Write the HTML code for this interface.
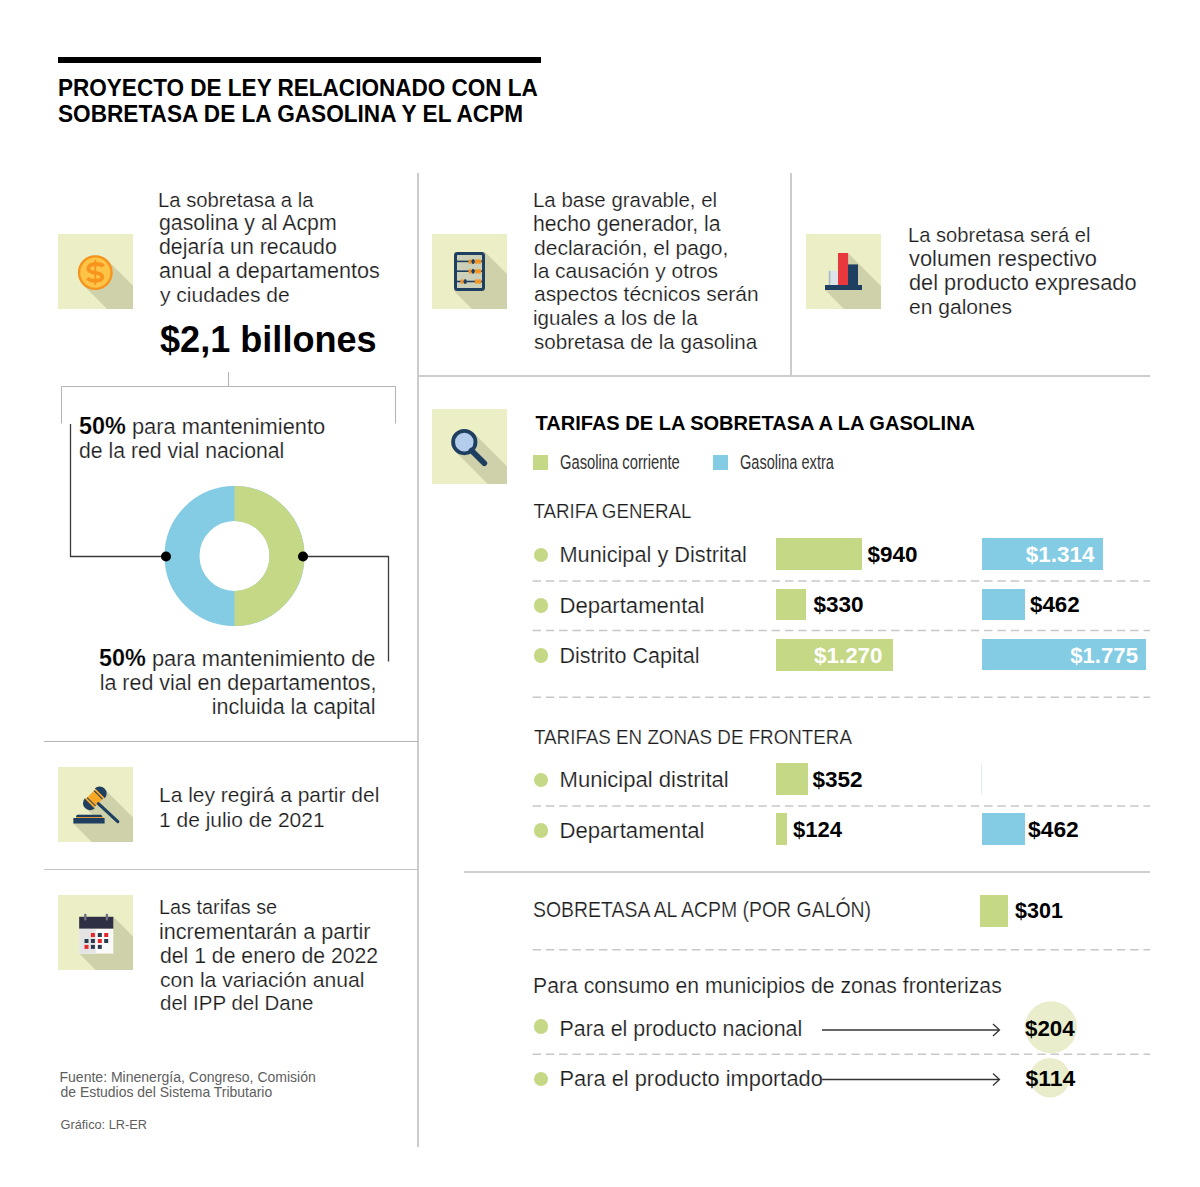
<!DOCTYPE html>
<html><head><meta charset="utf-8"><style>
html,body{margin:0;padding:0;background:#fff;}
body{width:1200px;height:1187px;position:relative;overflow:hidden;font-family:"Liberation Sans", sans-serif;}
.t{position:absolute;white-space:nowrap;}
.lt{-webkit-text-stroke:0.2px #fff;}
svg{position:absolute;}
</style></head><body>
<div style="position:absolute;left:58px;top:57px;width:483px;height:6px;background:#000;"></div>
<div style="position:absolute;left:417px;top:173px;width:2px;height:974px;background:#cccccc;"></div>
<div style="position:absolute;left:790px;top:173px;width:2px;height:203px;background:#cccccc;"></div>
<div style="position:absolute;left:418px;top:375px;width:732px;height:2px;background:#cccccc;"></div>
<div style="position:absolute;left:44px;top:741px;width:374px;height:1px;background:#b4b4b4;"></div>
<div style="position:absolute;left:44px;top:869px;width:374px;height:1px;background:#c4c4c4;"></div>
<div style="position:absolute;left:464px;top:871px;width:686px;height:2px;background:#cfcfcf;"></div>
<svg style="left:0;top:0" width="1200" height="1187" viewBox="0 0 1200 1187">
<g fill="none" stroke="#b3b3b3" stroke-width="1">
<path d="M61.5 423.5 V386.5 H395.5 V423.5"/>
<path d="M228.5 372 V386.5"/>
</g>
<g fill="none" stroke="#3a3a3a" stroke-width="1.3">
<path d="M70.5 424 V556.5 H166"/>
<path d="M303 556.5 H388.5 V661.5"/>
</g>
<circle cx="234.5" cy="556" r="52.5" fill="none" stroke="#84cbe4" stroke-width="35"/>
<path d="M234.5 486 A70 70 0 0 1 234.5 626 L234.5 591 A35 35 0 0 0 234.5 521 Z" fill="#c5d886"/>
<circle cx="166" cy="556.5" r="5" fill="#000"/>
<circle cx="303" cy="556.5" r="5" fill="#000"/>
</svg>
<div style="position:absolute;left:533px;top:455px;width:15px;height:15px;background:#c5d886;"></div>
<div style="position:absolute;left:713px;top:455px;width:15px;height:15px;background:#84cbe4;"></div>
<div style="position:absolute;left:533.7px;top:547.6px;width:14.8px;height:14.8px;border-radius:50%;background:#c5d886"></div>
<div style="position:absolute;left:533.7px;top:598.1px;width:14.8px;height:14.8px;border-radius:50%;background:#c5d886"></div>
<div style="position:absolute;left:533.7px;top:648.1px;width:14.8px;height:14.8px;border-radius:50%;background:#c5d886"></div>
<div style="position:absolute;left:533.7px;top:772.6px;width:14.8px;height:14.8px;border-radius:50%;background:#c5d886"></div>
<div style="position:absolute;left:533.7px;top:823.1px;width:14.8px;height:14.8px;border-radius:50%;background:#c5d886"></div>
<div style="position:absolute;left:533.7px;top:1019.1px;width:14.8px;height:14.8px;border-radius:50%;background:#c5d886"></div>
<div style="position:absolute;left:533.7px;top:1071.6px;width:14.8px;height:14.8px;border-radius:50%;background:#c5d886"></div>
<svg style="left:0;top:0" width="1200" height="1187" viewBox="0 0 1200 1187"><g stroke="#c8c8c8" stroke-width="1.4" stroke-dasharray="8.4 4.88">
<path d="M532.6 581 H1150"/>
<path d="M532.6 630.5 H1150"/>
<path d="M532.6 697.3 H1150"/>
<path d="M532.6 806 H1150"/>
<path d="M532.6 949.7 H1150"/>
<path d="M532.6 1054.2 H1150"/>
</g></svg>
<div style="position:absolute;left:776px;top:538px;width:86px;height:32px;background:#c5d886;"></div>
<div style="position:absolute;left:776px;top:589px;width:30px;height:31px;background:#c5d886;"></div>
<div style="position:absolute;left:776px;top:639px;width:117px;height:31.5px;background:#c5d886;"></div>
<div style="position:absolute;left:982px;top:538px;width:121px;height:32px;background:#84cbe4;"></div>
<div style="position:absolute;left:982px;top:589px;width:43px;height:31px;background:#84cbe4;"></div>
<div style="position:absolute;left:982px;top:639px;width:164px;height:31px;background:#84cbe4;"></div>
<div style="position:absolute;left:776px;top:763px;width:32px;height:31.5px;background:#c5d886;"></div>
<div style="position:absolute;left:981px;top:763px;width:1px;height:32px;background:#e3eef2;"></div>
<div style="position:absolute;left:776px;top:813px;width:11px;height:31.5px;background:#c5d886;"></div>
<div style="position:absolute;left:981.5px;top:813px;width:43px;height:31.5px;background:#84cbe4;"></div>
<div style="position:absolute;left:980px;top:895px;width:28px;height:32px;background:#c5d886;"></div>
<svg style="left:0;top:0" width="1200" height="1187" viewBox="0 0 1200 1187">
<circle cx="1051" cy="1027.3" r="26" fill="#e9edcb"/>
<circle cx="1050" cy="1077.7" r="19.8" fill="#e9edcb"/>
<g fill="none" stroke="#333" stroke-width="1.3">
<path d="M822 1030 H999"/><path d="M993 1024 L999.5 1030 L993 1036"/>
<path d="M822 1079.5 H999"/><path d="M993 1073.5 L999.5 1079.5 L993 1085.5"/>
</g></svg>
<svg style="left:58px;top:234px" width="75" height="75" viewBox="0 0 75 75"><rect width="75" height="75" fill="#ecefc6"/><polygon points="25.00,50.90 49.60,26.30 139.60,116.30 115.00,140.90" fill="#cfd1aa"/><circle cx="37.3" cy="38.6" r="17.4" fill="#cfd1aa"/><circle cx="37.3" cy="38.6" r="16.25" fill="#fdc447" stroke="#f7941d" stroke-width="2.4"/><path d="M45.5 32.2 C44 30.6 41 30 37.4 30 C33 30 30.3 31.8 30.3 34.6 C30.3 37.6 33 38.3 37.3 38.8 C41.8 39.3 44.3 40.3 44.3 43.1 C44.3 46 41.5 46.7 37.3 46.7 C33.5 46.7 30.9 45.9 29.3 44.2" fill="none" stroke="#f7941d" stroke-width="3.8"/><path d="M37.3 26 V50.8" stroke="#f7941d" stroke-width="1.7"/></svg>
<svg style="left:432px;top:234px" width="75" height="75" viewBox="0 0 75 75"><rect width="75" height="75" fill="#ecefc6"/><polygon points="53,18 143,108 143,147 112,147 22,57 22,18" fill="#cfd1aa"/><rect x="23.5" y="19.5" width="28" height="36" rx="2" fill="#cdd0b9" stroke="#1e3f5f" stroke-width="3"/><path d="M24 27.4 H51" stroke="#1e3f5f" stroke-width="1.6"/><ellipse cx="38.1" cy="27.4" rx="1.6" ry="2.5" fill="#f7941d"/><ellipse cx="41.1" cy="27.4" rx="1.6" ry="2.5" fill="#1e3f5f"/><ellipse cx="44.5" cy="27.4" rx="1.6" ry="2.5" fill="#f7941d"/><ellipse cx="47.6" cy="27.4" rx="1.6" ry="2.5" fill="#f7941d"/><path d="M24 37.2 H51" stroke="#1e3f5f" stroke-width="1.6"/><ellipse cx="38.1" cy="37.2" rx="1.6" ry="2.5" fill="#f7941d"/><ellipse cx="41.1" cy="37.2" rx="1.6" ry="2.5" fill="#1e3f5f"/><ellipse cx="44.5" cy="37.2" rx="1.6" ry="2.5" fill="#f7941d"/><ellipse cx="47.6" cy="37.2" rx="1.6" ry="2.5" fill="#f7941d"/><path d="M24 47.5 H51" stroke="#1e3f5f" stroke-width="1.6"/><ellipse cx="30.1" cy="47.5" rx="1.6" ry="2.5" fill="#f7941d"/><ellipse cx="33.2" cy="47.5" rx="1.6" ry="2.5" fill="#1e3f5f"/><ellipse cx="44.5" cy="47.5" rx="1.6" ry="2.5" fill="#f7941d"/><ellipse cx="47.6" cy="47.5" rx="1.6" ry="2.5" fill="#f7941d"/></svg>
<svg style="left:806px;top:234px" width="75" height="75" viewBox="0 0 75 75"><rect width="75" height="75" fill="#ecefc6"/><polygon points="56,51 146,141 146,146 109,146 19,56 19,51" fill="#cfd1aa"/><polygon points="42,19 132,109 132,141 122,141 32,51 32,19" fill="#cfd1aa"/><polygon points="52,30.4 142,120.4 142,141 132,141 42,51 42,30.4" fill="#cfd1aa"/><rect x="22.8" y="36.9" width="9.2" height="14.1" fill="#dde4e9"/><rect x="22.8" y="36.9" width="1.6" height="14.1" fill="#aab6c2"/><rect x="32" y="19" width="10.1" height="32" fill="#e8383d"/><rect x="42" y="30.4" width="10" height="20.6" fill="#1e3f5f"/><rect x="19" y="51" width="37" height="5" fill="#1e3f5f"/></svg>
<svg style="left:432px;top:409px" width="75" height="75" viewBox="0 0 75 75"><rect width="75" height="75" fill="#ecefc6"/><polygon points="23.04,42.36 41.56,23.84 131.56,113.84 113.04,132.36" fill="#cfd1aa"/><circle cx="32.3" cy="33.1" r="13.1" fill="#cfd1aa"/><polygon points="55,41 115,101 115,115 97,115 37,55 37,41" fill="#cfd1aa"/><circle cx="32.3" cy="33.1" r="11.2" fill="#b5cdec" stroke="#1e3f5f" stroke-width="3.8"/><path d="M39.5 41.5 L52.3 54.2" stroke="#1e3f5f" stroke-width="5.7" stroke-linecap="round"/></svg>
<svg style="left:58px;top:767px" width="75" height="75" viewBox="0 0 75 75"><rect width="75" height="75" fill="#ecefc6"/><polygon points="44.1,47.8 134.1,137.8 134.1,141 108.2,141 18.2,51 18.2,47.8" fill="#cfd1aa"/><polygon points="46.6,51 136.6,141 136.6,146.5 105.4,146.5 15.4,56.5 15.4,51" fill="#cfd1aa"/><g transform="translate(36.8 31.3) rotate(-45)"><rect x="-13.5" y="0" width="27" height="90" fill="#cfd1aa"/><path d="M7 -7 A6.8 7 0 0 1 7 7 Z" fill="#1e3f5f"/><path d="M-7 -7 A6.8 7 0 0 0 -7 7 Z" fill="#1e3f5f"/><rect x="-7.2" y="-6.0" width="14.4" height="12.0" fill="#f9a825"/><rect x="-5.4" y="-6.0" width="1.0" height="12.0" fill="#1e3f5f"/><rect x="4.4" y="-6.0" width="1.0" height="12.0" fill="#1e3f5f"/></g><path d="M40.4 36.6 L59.8 54.6" stroke="#1e3f5f" stroke-width="3.2" stroke-linecap="round"/><path d="M18.2 50.3 V49.3 Q18.2 47.8 19.7 47.8 H42.6 Q44.1 47.8 44.1 49.3 V50.3 Z" fill="#1e3f5f"/><rect x="18.5" y="50.2" width="27" height="0.9" fill="#f7941d"/><rect x="15.4" y="51" width="31.2" height="5.5" fill="#1e3f5f"/></svg>
<svg style="left:58px;top:895px" width="75" height="75" viewBox="0 0 75 75"><rect width="75" height="75" fill="#ecefc6"/><polygon points="55.3,21.8 145.3,111.8 145.3,148.6 111.2,148.6 21.2,58.6 21.2,21.8" fill="#cfd1aa"/><rect x="21.2" y="33.6" width="34.1" height="25" fill="#fafafa"/><rect x="21.2" y="33.6" width="16.5" height="25" fill="#e4e4e4"/><rect x="21.2" y="21.8" width="34.1" height="11.8" fill="#2e2e44"/><rect x="26.1" y="18.8" width="2.4" height="6.8" rx="1" fill="#6f6f80"/><rect x="47.7" y="18.8" width="2.4" height="6.8" rx="1" fill="#6f6f80"/><rect x="32.9" y="38.0" width="4" height="4" fill="#e8262b"/><rect x="39.8" y="38.0" width="4" height="4" fill="#2a3a4e"/><rect x="46.2" y="38.0" width="4" height="4" fill="#e8262b"/><rect x="26.5" y="44.0" width="4" height="4" fill="#2a3a4e"/><rect x="32.9" y="44.0" width="4" height="4" fill="#2a3a4e"/><rect x="39.8" y="44.0" width="4" height="4" fill="#e8262b"/><rect x="46.2" y="44.0" width="4" height="4" fill="#2a3a4e"/><rect x="26.5" y="49.9" width="4" height="4" fill="#e8262b"/><rect x="32.9" y="49.9" width="4" height="4" fill="#2a3a4e"/><rect x="39.8" y="49.9" width="4" height="4" fill="#2a3a4e"/></svg>
<div class="t" style="left:58.00px;top:77.53px;font-size:22.541px;line-height:22.541px;font-weight:bold;color:#000;transform:scale(1.0000,1.08);transform-origin:left 18.77px;">PROYECTO DE LEY RELACIONADO CON LA</div>
<div class="t" style="left:58.00px;top:103.68px;font-size:22.645px;line-height:22.645px;font-weight:bold;color:#000;transform:scale(1.0000,1.08);transform-origin:left 18.82px;">SOBRETASA DE LA GASOLINA Y EL ACPM</div>
<div class="t lt" style="left:158.00px;top:190.36px;font-size:20.280px;line-height:20.280px;color:#1c1c1c;">La sobretasa a la</div>
<div class="t lt" style="left:159.00px;top:213.39px;font-size:21.323px;line-height:21.323px;color:#1c1c1c;">gasolina y al Acpm</div>
<div class="t lt" style="left:159.00px;top:236.94px;font-size:21.321px;line-height:21.321px;color:#1c1c1c;">dejaría un recaudo</div>
<div class="t lt" style="left:159.00px;top:259.85px;font-size:21.594px;line-height:21.594px;color:#1c1c1c;">anual a departamentos</div>
<div class="t lt" style="left:160.00px;top:283.68px;font-size:21.037px;line-height:21.037px;color:#1c1c1c;">y ciudades de</div>
<div class="t" style="left:160.00px;top:321.95px;font-size:36.106px;line-height:36.106px;font-weight:bold;color:#000;">$2,1 billones</div>
<div class="t lt" style="left:533.00px;top:189.57px;font-size:20.451px;line-height:20.451px;color:#1c1c1c;">La base gravable, el</div>
<div class="t lt" style="left:533.00px;top:213.42px;font-size:21.227px;line-height:21.227px;color:#1c1c1c;">hecho generador, la</div>
<div class="t lt" style="left:534.00px;top:236.73px;font-size:21.051px;line-height:21.051px;color:#1c1c1c;">declaración, el pago,</div>
<div class="t lt" style="left:533.00px;top:260.51px;font-size:20.952px;line-height:20.952px;color:#1c1c1c;">la causación y otros</div>
<div class="t lt" style="left:534.00px;top:284.25px;font-size:20.945px;line-height:20.945px;color:#1c1c1c;">aspectos técnicos serán</div>
<div class="t lt" style="left:533.00px;top:308.16px;font-size:20.574px;line-height:20.574px;color:#1c1c1c;">iguales a los de la</div>
<div class="t lt" style="left:534.00px;top:331.88px;font-size:20.608px;line-height:20.608px;color:#1c1c1c;">sobretasa de la gasolina</div>
<div class="t lt" style="left:908.00px;top:225.43px;font-size:20.146px;line-height:20.146px;color:#1c1c1c;">La sobretasa será el</div>
<div class="t lt" style="left:909.00px;top:247.79px;font-size:21.822px;line-height:21.822px;color:#1c1c1c;">volumen respectivo</div>
<div class="t lt" style="left:909.00px;top:271.51px;font-size:21.786px;line-height:21.786px;color:#1c1c1c;">del producto expresado</div>
<div class="t lt" style="left:909.00px;top:295.57px;font-size:21.069px;line-height:21.069px;color:#1c1c1c;">en galones</div>
<div class="t lt" style="left:159.00px;top:785.21px;font-size:20.973px;line-height:20.973px;color:#1c1c1c;">La ley regirá a partir del</div>
<div class="t lt" style="left:159.00px;top:808.71px;font-size:20.982px;line-height:20.982px;color:#1c1c1c;">1 de julio de 2021</div>
<div class="t lt" style="left:159.00px;top:898.27px;font-size:19.864px;line-height:19.864px;color:#1c1c1c;">Las tarifas se</div>
<div class="t lt" style="left:159.00px;top:920.79px;font-size:21.618px;line-height:21.618px;color:#1c1c1c;">incrementarán a partir</div>
<div class="t lt" style="left:160.00px;top:944.89px;font-size:21.216px;line-height:21.216px;color:#1c1c1c;">del 1 de enero de 2022</div>
<div class="t lt" style="left:160.00px;top:968.83px;font-size:21.147px;line-height:21.147px;color:#1c1c1c;">con la variación anual</div>
<div class="t lt" style="left:160.00px;top:993.04px;font-size:20.516px;line-height:20.516px;color:#1c1c1c;">del IPP del Dane</div>
<div class="t" style="left:59.50px;top:1070.48px;font-size:14.033px;line-height:14.033px;color:#5e5e5e;">Fuente: Minenergía, Congreso, Comisión</div>
<div class="t" style="left:60.50px;top:1086.02px;font-size:13.967px;line-height:13.967px;color:#5e5e5e;">de Estudios del Sistema Tributario</div>
<div class="t" style="left:60.50px;top:1119.12px;font-size:12.765px;line-height:12.765px;color:#5e5e5e;">Gráfico: LR-ER</div>
<div class="t lt" style="left:79.00px;top:416.05px;font-size:21.894px;line-height:21.894px;color:#1c1c1c;"><b style="color:#000;font-size:1.07em">50%</b> para mantenimiento</div>
<div class="t lt" style="left:79.00px;top:439.88px;font-size:21.230px;line-height:21.230px;color:#1c1c1c;">de la red vial nacional</div>
<div class="t lt" style="right:824.50px;text-align:right;top:648.06px;font-size:21.875px;line-height:21.875px;color:#1c1c1c;"><b style="color:#000;font-size:1.07em">50%</b> para mantenimiento de</div>
<div class="t lt" style="right:823.50px;text-align:right;top:672.76px;font-size:21.470px;line-height:21.470px;color:#1c1c1c;">la red vial en departamentos,</div>
<div class="t lt" style="right:824.50px;text-align:right;top:697.23px;font-size:21.537px;line-height:21.537px;color:#1c1c1c;">incluida la capital</div>
<div class="t" style="left:535.50px;top:412.68px;font-size:20.046px;line-height:20.046px;font-weight:bold;color:#000;transform:scale(1.0000,1.05);transform-origin:left 17.02px;">TARIFAS DE LA SOBRETASA A LA GASOLINA</div>
<div class="t" style="left:559.50px;top:453.40px;font-size:19.600px;line-height:19.600px;color:#333333;transform:scale(0.7528,1.0);transform-origin:left 16.80px;">Gasolina corriente</div>
<div class="t" style="left:739.50px;top:453.40px;font-size:19.600px;line-height:19.600px;color:#333333;transform:scale(0.7432,1.0);transform-origin:left 16.80px;">Gasolina extra</div>
<div class="t lt" style="left:533.50px;top:503.43px;font-size:18.748px;line-height:18.748px;color:#1c1c1c;transform:scale(1.0000,1.12);transform-origin:left 15.87px;">TARIFA GENERAL</div>
<div class="t lt" style="left:534.00px;top:728.50px;font-size:18.800px;line-height:18.800px;color:#1c1c1c;transform:scale(1.0000,1.12);transform-origin:left 15.90px;">TARIFAS EN ZONAS DE FRONTERA</div>
<div class="t lt" style="left:533.00px;top:901.17px;font-size:19.455px;line-height:19.455px;color:#1c1c1c;transform:scale(1.0000,1.1);transform-origin:left 16.73px;">SOBRETASA AL ACPM (POR GALÓN)</div>
<div class="t lt" style="left:533.00px;top:974.90px;font-size:21.209px;line-height:21.209px;color:#1c1c1c;">Para consumo en municipios de zonas fronterizas</div>
<div class="t lt" style="left:559.50px;top:544.32px;font-size:21.751px;line-height:21.751px;color:#1c1c1c;">Municipal y Distrital</div>
<div class="t lt" style="left:559.50px;top:594.64px;font-size:22.115px;line-height:22.115px;color:#1c1c1c;">Departamental</div>
<div class="t lt" style="left:559.50px;top:644.82px;font-size:21.553px;line-height:21.553px;color:#1c1c1c;">Distrito Capital</div>
<div class="t lt" style="left:559.50px;top:769.26px;font-size:22.073px;line-height:22.073px;color:#1c1c1c;">Municipal distrital</div>
<div class="t lt" style="left:559.50px;top:819.64px;font-size:22.115px;line-height:22.115px;color:#1c1c1c;">Departamental</div>
<div class="t lt" style="left:559.50px;top:1019.09px;font-size:21.426px;line-height:21.426px;color:#1c1c1c;">Para el producto nacional</div>
<div class="t lt" style="left:559.50px;top:1067.78px;font-size:21.837px;line-height:21.837px;color:#1c1c1c;">Para el producto importado</div>
<div class="t" style="left:867.50px;top:544.27px;font-size:22.463px;line-height:22.463px;font-weight:bold;color:#000;">$940</div>
<div class="t" style="left:813.50px;top:594.22px;font-size:22.564px;line-height:22.564px;font-weight:bold;color:#000;">$330</div>
<div class="t" style="left:1030.00px;top:594.41px;font-size:22.371px;line-height:22.371px;font-weight:bold;color:#000;">$462</div>
<div class="t" style="left:812.50px;top:768.72px;font-size:22.553px;line-height:22.553px;font-weight:bold;color:#000;">$352</div>
<div class="t" style="left:793.00px;top:819.45px;font-size:22.093px;line-height:22.093px;font-weight:bold;color:#000;">$124</div>
<div class="t" style="left:1028.00px;top:818.28px;font-size:22.836px;line-height:22.836px;font-weight:bold;color:#000;">$462</div>
<div class="t" style="left:1015.00px;top:900.73px;font-size:21.542px;line-height:21.542px;font-weight:bold;color:#000;">$301</div>
<div class="t" style="left:1025.00px;top:1017.62px;font-size:22.362px;line-height:22.362px;font-weight:bold;color:#000;">$204</div>
<div class="t" style="left:1025.50px;top:1067.03px;font-size:22.946px;line-height:22.946px;font-weight:bold;color:#000;">$114</div>
<div class="t" style="right:317.50px;text-align:right;top:644.80px;font-size:22.402px;line-height:22.402px;font-weight:bold;color:#fff;">$1.270</div>
<div class="t" style="right:105.50px;text-align:right;top:544.27px;font-size:22.460px;line-height:22.460px;font-weight:bold;color:#fff;">$1.314</div>
<div class="t" style="right:62.00px;text-align:right;top:644.90px;font-size:22.200px;line-height:22.200px;font-weight:bold;color:#fff;">$1.775</div>
</body></html>
